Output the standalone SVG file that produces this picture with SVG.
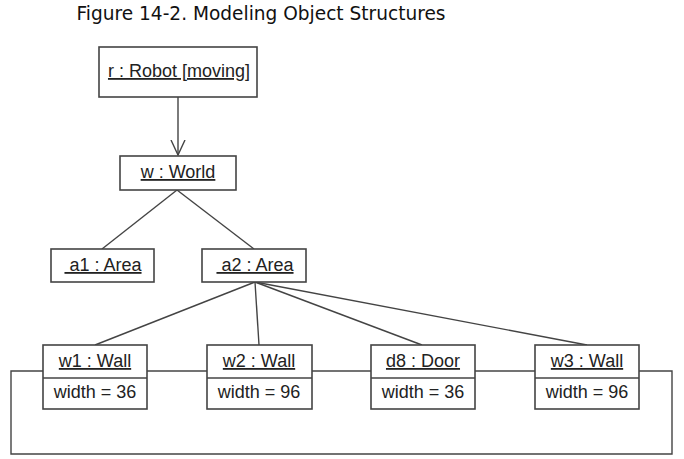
<svg xmlns="http://www.w3.org/2000/svg" width="684" height="459" viewBox="0 0 684 459">
<defs>
<style>
.box{fill:#fff;stroke:#444;stroke-width:1.6}
.ln{fill:none;stroke:#444;stroke-width:1.4}
.t{font-family:"Liberation Sans",Arial,sans-serif;font-size:18px;fill:#222;text-anchor:middle;white-space:pre}
.u{text-decoration:underline}
.title{font-family:"DejaVu Sans",Verdana,sans-serif;font-size:19px;fill:#111;text-anchor:middle}
</style>
<marker id="open" markerWidth="16" markerHeight="18" refX="15" refY="8" orient="auto" markerUnits="userSpaceOnUse">
<path d="M0,1 L15,8 L0,15" fill="none" stroke="#444" stroke-width="1.4"/>
</marker>
</defs>
<rect width="684" height="459" fill="#fff"/>
<text class="title" x="261" y="20" textLength="369" lengthAdjust="spacingAndGlyphs">Figure 14-2. Modeling Object Structures</text>
<g id="connectors">
<line class="ln" x1="178" y1="97" x2="178" y2="155" marker-end="url(#open)"/>
<line class="ln" x1="177" y1="190" x2="102" y2="249"/>
<line class="ln" x1="177" y1="190" x2="254" y2="249"/>
<line class="ln" x1="255" y1="282" x2="95" y2="345"/>
<line class="ln" x1="255" y1="282" x2="259" y2="345"/>
<line class="ln" x1="255" y1="282" x2="422" y2="345"/>
<line class="ln" x1="255" y1="282" x2="587" y2="345"/>
<line class="ln" x1="147" y1="371" x2="207" y2="371"/>
<line class="ln" x1="312" y1="371" x2="371" y2="371"/>
<line class="ln" x1="475" y1="371" x2="535" y2="371"/>
<polyline class="ln" points="639,371 672,371 672,454 11,454 11,371 43,371"/>
</g>
<g id="robot">
<rect class="box" x="99" y="47" width="158" height="50"/>
<text class="t u" x="179" y="77">r : Robot [moving]</text>
</g>
<g id="world">
<rect class="box" x="120" y="156" width="116" height="34"/>
<text class="t u" x="178" y="178">w : World</text>
</g>
<g id="a1">
<rect class="box" x="51" y="249" width="103" height="33"/>
<text class="t u" x="103" y="271" xml:space="preserve"> a1 : Area</text>
</g>
<g id="a2">
<rect class="box" x="202" y="249" width="104" height="33"/>
<text class="t u" x="255" y="271" xml:space="preserve"> a2 : Area</text>
</g>
<g id="w1">
<rect class="box" x="43" y="345" width="104" height="64"/>
<line class="ln" x1="43" y1="378" x2="147" y2="378"/>
<text class="t u" x="95" y="367">w1 : Wall</text>
<text class="t" x="95" y="398">width = 36</text>
</g>
<g id="w2">
<rect class="box" x="207" y="345" width="105" height="64"/>
<line class="ln" x1="207" y1="378" x2="312" y2="378"/>
<text class="t u" x="259" y="367">w2 : Wall</text>
<text class="t" x="259" y="398">width = 96</text>
</g>
<g id="d8">
<rect class="box" x="371" y="345" width="104" height="64"/>
<line class="ln" x1="371" y1="378" x2="475" y2="378"/>
<text class="t u" x="423" y="367">d8 : Door</text>
<text class="t" x="423" y="398">width = 36</text>
</g>
<g id="w3">
<rect class="box" x="535" y="345" width="104" height="64"/>
<line class="ln" x1="535" y1="378" x2="639" y2="378"/>
<text class="t u" x="587" y="367">w3 : Wall</text>
<text class="t" x="587" y="398">width = 96</text>
</g>
</svg>
